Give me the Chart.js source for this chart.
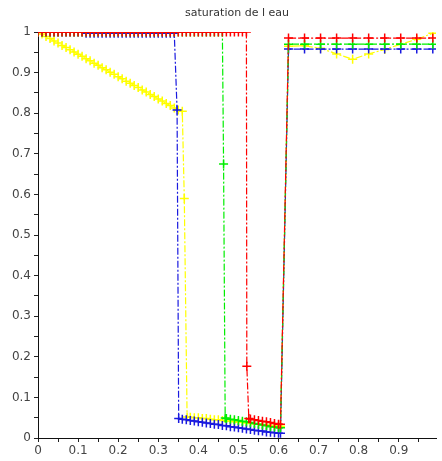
<!DOCTYPE html>
<html>
<head>
<meta charset="utf-8">
<script src="https://cdn.jsdelivr.net/npm/chart.js@4.4.1/dist/chart.umd.min.js"></script>
<style>
    html, body { margin: 0; padding: 0; background: #fff; }
    #wrap { width: 442px; height: 461px; }
</style>
</head>
<body>
<div id="wrap"><canvas id="satChart"></canvas></div>
<script>
const titleText = 'saturation de l eau';

// fine grid of the left part (0 .. 0.60) and coarse grid of the right part
const gridX = [0, 0.01, 0.02, 0.03, 0.04, 0.05, 0.06, 0.07, 0.08, 0.09,
    0.10, 0.11, 0.12, 0.13, 0.14, 0.15, 0.16, 0.17, 0.18, 0.19,
    0.20, 0.21, 0.22, 0.23, 0.24, 0.25, 0.26, 0.27, 0.28, 0.29,
    0.30, 0.31, 0.32, 0.33, 0.34, 0.35, 0.36, 0.37, 0.38, 0.39,
    0.40, 0.41, 0.42, 0.43, 0.44, 0.45, 0.46, 0.47, 0.48, 0.49,
    0.50, 0.51, 0.52, 0.53, 0.54, 0.55, 0.56, 0.57, 0.58, 0.59, 0.60];
const rightX = [0.625, 0.665, 0.705, 0.745, 0.785, 0.825, 0.865, 0.905, 0.945, 0.985];

const yellowX = gridX.slice(0, 37).concat([0.365, 0.372], gridX.slice(38), [0.605], rightX);
const yellowY = [1.000, 0.995, 0.989, 0.984, 0.978, 0.973, 0.967, 0.962, 0.956, 0.951,
    0.945, 0.940, 0.934, 0.929, 0.923, 0.918, 0.912, 0.907, 0.901, 0.896,
    0.890, 0.885, 0.879, 0.874, 0.868, 0.863, 0.857, 0.852, 0.846, 0.841,
    0.835, 0.830, 0.824, 0.819, 0.813, 0.808, 0.805,
    0.59, 0.052,
    0.051, 0.050, 0.050, 0.048, 0.048, 0.046, 0.045, 0.045, 0.043, 0.042, 0.042, 0.040,
    0.039, 0.039, 0.037, 0.036, 0.035, 0.034, 0.033, 0.032, 0.031, 0.030, 0.029,
    0.029,
    0.965, 0.966, 0.960, 0.946, 0.933, 0.946, 0.957, 0.970, 0.982, 0.997];

const blueX = gridX.slice(0, 35).concat([0.347, 0.351], gridX.slice(36), [0.605], rightX);
const blueY = [1, 1, 1, 1, 1, 1, 1, 1, 1, 1, 1, 1,
    0.997, 0.997, 0.997, 0.997, 0.997, 0.997, 0.997, 0.997, 0.997, 0.997, 0.997, 0.997,
    0.997, 0.997, 0.997, 0.997, 0.997, 0.997, 0.997, 0.997, 0.997, 0.997, 0.997,
    0.808, 0.048,
    0.046, 0.045, 0.043, 0.042, 0.040, 0.039, 0.037, 0.036, 0.034, 0.033, 0.031, 0.030, 0.028,
    0.027, 0.025, 0.024, 0.022, 0.021, 0.019, 0.018, 0.017, 0.015, 0.014, 0.013, 0.012,
    0.012,
    0.958, 0.958, 0.958, 0.958, 0.958, 0.958, 0.958, 0.958, 0.958, 0.958];

const greenX = gridX.slice(0, 47).concat([0.463, 0.467], gridX.slice(47), [0.605], rightX);
const greenY = [1, 1, 1, 1, 1, 1, 1, 1, 1, 1, 1, 1, 1, 1, 1, 1, 1, 1, 1, 1,
    1, 1, 1, 1, 1, 1, 1, 1, 1, 1, 1, 1, 1, 1, 1, 1, 1, 1, 1, 1,
    1, 1, 1, 1, 1, 1, 1,
    0.675, 0.049,
    0.048, 0.046, 0.045, 0.043, 0.041, 0.040, 0.038, 0.036, 0.034, 0.032, 0.030, 0.028, 0.027, 0.025,
    0.025,
    0.970, 0.970, 0.970, 0.970, 0.970, 0.970, 0.970, 0.970, 0.970, 0.970];

const redX = gridX.slice(0, 53).concat([0.521, 0.526], gridX.slice(53), [0.605], rightX);
const redY = [1, 1, 1, 1, 1, 1, 1, 1, 1, 1, 1, 1, 1, 1, 1, 1, 1, 1, 1, 1,
    1, 1, 1, 1, 1, 1, 1, 1, 1, 1, 1, 1, 1, 1, 1, 1, 1, 1, 1, 1,
    1, 1, 1, 1, 1, 1, 1, 1, 1, 1, 1, 1, 1,
    0.177, 0.048,
    0.047, 0.045, 0.043, 0.041, 0.040, 0.038, 0.036, 0.034,
    0.034,
    0.985, 0.985, 0.985, 0.985, 0.985, 0.985, 0.985, 0.985, 0.985, 0.985];

function toPoints(xs, ys) {
    const pts = [];
    for (let i = 0; i < Math.min(xs.length, ys.length); i++) {
        pts.push({ x: xs[i], y: ys[i] });
    }
    return pts;
}

function serie(label, xs, ys, color) {
    return {
        label: label,
        data: toPoints(xs, ys),
        borderColor: color,
        backgroundColor: color,
        borderWidth: 1.2,
        borderDash: [7, 2, 2, 2],
        pointStyle: 'cross',
        pointRadius: 4.5,
        pointBorderWidth: 1.5,
        pointBorderColor: color,
        tension: 0,
        clip: 0
    };
}

// draws the title centred over the plot area
const titlePlugin = {
    id: 'plotTitle',
    afterDraw(chart) {
        const ctx = chart.ctx;
        const a = chart.chartArea;
        ctx.save();
        ctx.font = '11px "DejaVu Sans"';
        ctx.fillStyle = '#333';
        ctx.textAlign = 'center';
        ctx.textBaseline = 'middle';
        ctx.fillText(titleText, (a.left + a.right) / 2, 13);
        ctx.restore();
    }
};

function tickLabel(value) {
    const r = Math.round(value * 100);
    if (r % 10 !== 0) return '';
    return String(r / 100);
}

new Chart(document.getElementById('satChart'), {
    type: 'line',
    data: {
        datasets: [
            serie('rouge', redX, redY, '#ff0000'),
            serie('vert', greenX, greenY, '#00ee00'),
            serie('bleu', blueX, blueY, '#1a1adf'),
            serie('jaune', yellowX, yellowY, '#ffff00')
        ]
    },
    plugins: [titlePlugin],
    options: {
        responsive: true,
        maintainAspectRatio: false,
        animation: false,
        layout: { padding: { top: 32, right: 0, left: 0, bottom: 0 } },
        plugins: {
            legend: { display: false },
            tooltip: { enabled: false },
            title: { display: false }
        },
        scales: {
            x: {
                type: 'linear',
                min: 0,
                max: 0.993,
                afterFit: function (scale) { scale.height = 23; },
                border: { color: '#111', width: 1 },
                grid: {
                    drawOnChartArea: false,
                    drawTicks: true,
                    tickLength: 4,
                    tickColor: '#222'
                },
                ticks: {
                    stepSize: 0.05,
                    includeBounds: false,
                    autoSkip: false,
                    maxRotation: 0,
                    padding: 2,
                    color: '#444',
                    font: { family: 'DejaVu Sans', size: 12 },
                    callback: tickLabel
                }
            },
            y: {
                type: 'linear',
                min: 0,
                max: 1,
                afterFit: function (scale) { scale.width = 38; },
                border: { color: '#111', width: 1 },
                grid: {
                    drawOnChartArea: false,
                    drawTicks: true,
                    tickLength: 4,
                    tickColor: '#222'
                },
                ticks: {
                    stepSize: 0.05,
                    autoSkip: false,
                    padding: 3,
                    color: '#444',
                    font: { family: 'DejaVu Sans', size: 12 },
                    callback: tickLabel
                }
            }
        }
    }
});
</script>
</body>
</html>
